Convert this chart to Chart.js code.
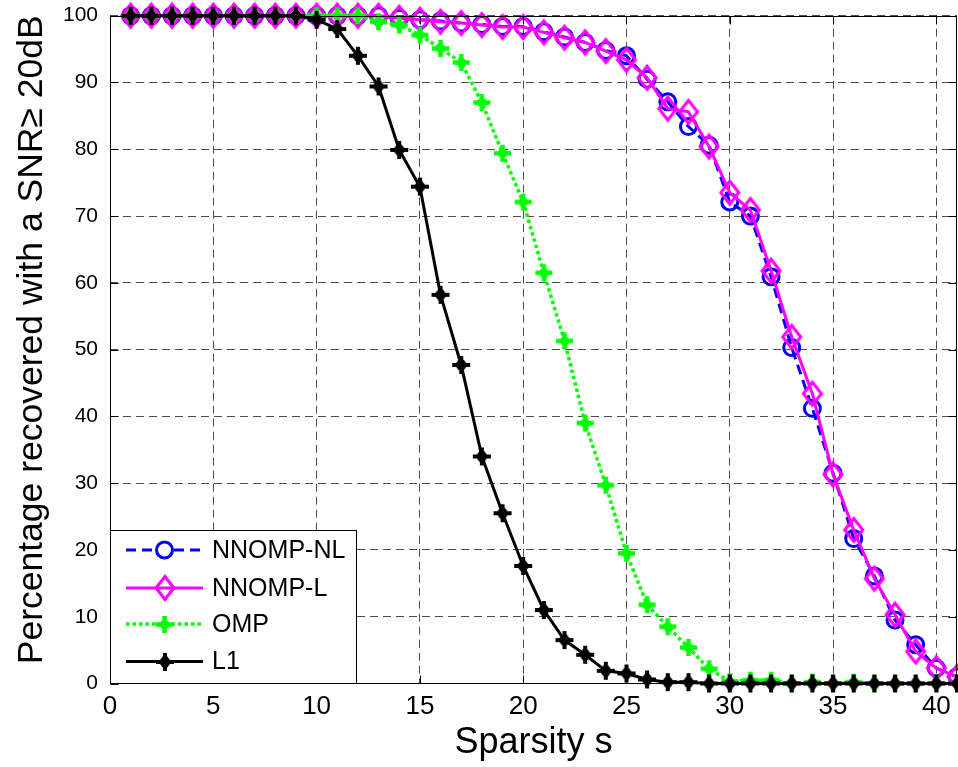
<!DOCTYPE html>
<html>
<head>
<meta charset="utf-8">
<script src="https://cdn.jsdelivr.net/npm/chart.js@4.4.1/dist/chart.umd.min.js"></script>
<style>
  html, body { margin: 0; padding: 0; background: #ffffff; }
  canvas { display: block; }
</style>
</head>
<body>
<canvas id="chart" width="958" height="767"></canvas>
<script>
// Sparsity levels on the horizontal axis
const sparsity = [1, 2, 3, 4, 5, 6, 7, 8, 9, 10,
                  11, 12, 13, 14, 15, 16, 17, 18, 19, 20,
                  21, 22, 23, 24, 25, 26, 27, 28, 29, 30,
                  31, 32, 33, 34, 35, 36, 37, 38, 39, 40, 41];

// Percentage of signals recovered with SNR >= 20 dB
const nnompNL = [100, 100, 100, 100, 100, 100, 100, 100, 100, 100,
                 100, 100, 100, 99.6, 99.4, 99.2, 98.9, 98.7, 98.4, 98.4,
                 97.6, 96.8, 96.0, 94.8, 94.0, 90.5, 87.1, 83.4, 80.6, 72.1,
                 70.0, 60.9, 50.3, 41.2, 31.5, 21.7, 16.1, 9.5, 5.8, 2.3, 1.0];

const nnompL = [100, 100, 100, 100, 100, 100, 100, 100, 100, 100,
                100, 100, 100, 99.7, 99.4, 99.1, 98.9, 98.6, 98.3, 98.3,
                97.5, 96.7, 96.0, 94.7, 93.4, 90.7, 86.1, 85.6, 80.4, 73.5,
                70.9, 61.8, 51.9, 43.4, 31.3, 23.0, 15.7, 10.3, 4.8, 2.3, 1.0];

const omp = [100, 100, 100, 100, 100, 100, 100, 100, 100, 100,
             100, 100, 99.1, 98.6, 97.1, 95.1, 93.0, 87.0, 79.4, 72.1,
             61.5, 51.3, 39.0, 29.7, 19.5, 11.8, 8.5, 5.4, 2.2, 0.3,
             0.5, 0.5, 0, 0.2, 0, 0.2, 0, 0, 0, 0, 0];

const l1 = [100, 100, 100, 100, 100, 100, 100, 100, 100, 99.4,
            98.0, 94.0, 89.4, 79.9, 74.4, 58.2, 47.7, 34.0, 25.5, 17.6,
            11.0, 6.5, 4.3, 1.9, 1.5, 0.6, 0.2, 0.2, 0, 0,
            0, 0, 0, 0, 0, 0, 0, 0, 0, 0, 0];

const seriesNames = ['NNOMP-NL', 'NNOMP-L', 'OMP', 'L1'];
const xTicks = [0, 5, 10, 15, 20, 25, 30, 35, 40];
const yTicks = [0, 10, 20, 30, 40, 50, 60, 70, 80, 90, 100];

const FONT = '"Liberation Sans", Arial, Helvetica, sans-serif';

// ---- marker sprites ----
function sprite(w, h, paint) {
  const c = document.createElement('canvas');
  c.width = w; c.height = h;
  paint(c.getContext('2d'), w / 2, h / 2);
  return c;
}

const diamondMarker = sprite(26, 30, (g, cx, cy) => {
  g.strokeStyle = '#ff00ff';
  g.lineWidth = 3;
  g.lineJoin = 'miter';
  g.beginPath();
  g.moveTo(cx - 9, cy);
  g.lineTo(cx, cy - 11.5);
  g.lineTo(cx + 9, cy);
  g.lineTo(cx, cy + 11.5);
  g.closePath();
  g.stroke();
});

function starMarker(color, hw, hh, arm, bar) {
  return sprite(2 * Math.max(hw, arm) + 2, 2 * Math.max(hh, arm) + 2, (g, cx, cy) => {
    g.fillStyle = color;
    g.beginPath();
    g.moveTo(cx - hw, cy);
    g.lineTo(cx, cy - hh);
    g.lineTo(cx + hw, cy);
    g.lineTo(cx, cy + hh);
    g.closePath();
    g.fill();
    g.fillRect(cx - arm, cy - bar / 2, 2 * arm, bar);
    g.fillRect(cx - bar / 2, cy - arm, bar, 2 * arm);
  });
}

const ompMarker = starMarker('#00ff00', 6.5, 6.5, 8.5, 4.5);
const l1Marker = starMarker('#000000', 6.5, 8.5, 9, 4);

function pts(values) {
  return sparsity.map((s, i) => ({ x: s, y: values[i] }));
}

const datasets = [
  {
    label: seriesNames[0], data: pts(nnompNL), order: 4,
    borderColor: '#0000ff', borderWidth: 3, borderDash: [10, 6],
    pointStyle: 'circle', pointRadius: 8, pointBorderWidth: 3,
    pointBorderColor: '#0000ff', pointBackgroundColor: 'rgba(0,0,0,0)'
  },
  {
    label: seriesNames[1], data: pts(nnompL), order: 3,
    borderColor: '#ff00ff', borderWidth: 3,
    pointStyle: diamondMarker, pointRadius: 10
  },
  {
    label: seriesNames[2], data: pts(omp), order: 2,
    borderColor: '#00ff00', borderWidth: 3.5, borderDash: [3.5, 3],
    pointStyle: ompMarker, pointRadius: 8
  },
  {
    label: seriesNames[3], data: pts(l1), order: 1,
    borderColor: '#000000', borderWidth: 3,
    pointStyle: l1Marker, pointRadius: 8
  }
].map(d => Object.assign({ fill: false, tension: 0, clip: false, showLine: true }, d));

// Keep the plot box fixed: no extra room reserved for edge tick labels
function fixBox(size, prop) {
  return function (scale) {
    scale[prop] = size;
    scale.paddingLeft = 0;
    scale.paddingRight = 0;
    scale.paddingTop = 0;
    scale.paddingBottom = 0;
  };
}

// Axes frame, inward tick marks and the legend box
const framePlugin = {
  id: 'frame',
  afterDatasetsDraw(chart) {
    const { ctx, chartArea: a, scales } = chart;
    ctx.save();
    ctx.strokeStyle = '#000';
    ctx.lineWidth = 1;
    ctx.setLineDash([]);
    const L = Math.round(a.left) + 0.5, R = Math.round(a.right) - 0.5;
    const T = Math.round(a.top) + 0.5, B = Math.round(a.bottom) - 0.5;
    ctx.strokeRect(L, T, R - L, B - T);
    const tl = 8;
    ctx.beginPath();
    xTicks.forEach(v => {
      const px = Math.round(scales.x.getPixelForValue(v)) + 0.5;
      ctx.moveTo(px, B); ctx.lineTo(px, B - tl);
      ctx.moveTo(px, T); ctx.lineTo(px, T + tl);
    });
    yTicks.forEach(v => {
      const py = Math.round(scales.y.getPixelForValue(v)) + 0.5;
      ctx.moveTo(L, py); ctx.lineTo(L + tl, py);
      ctx.moveTo(R, py); ctx.lineTo(R - tl, py);
    });
    ctx.stroke();
    ctx.restore();
  },
  afterDraw(chart) {
    const { ctx, chartArea: a } = chart;
    const boxL = Math.round(a.left) + 0.5, boxR = 356.5;
    const boxT = 530.5, boxB = Math.round(a.bottom) - 0.5;
    ctx.save();
    ctx.fillStyle = '#fff';
    ctx.fillRect(boxL, boxT, boxR - boxL, boxB - boxT);
    ctx.strokeStyle = '#000';
    ctx.lineWidth = 1;
    ctx.strokeRect(boxL, boxT, boxR - boxL, boxB - boxT);
    const rows = [550, 588, 624, 661.5];
    const x0 = 126, x1 = 203, xm = 164.5;
    chart.data.datasets.forEach((ds, i) => {
      const y = rows[i];
      ctx.save();
      ctx.strokeStyle = ds.borderColor;
      ctx.lineWidth = ds.borderWidth;
      ctx.setLineDash(ds.borderDash || []);
      ctx.beginPath();
      ctx.moveTo(x0, y); ctx.lineTo(x1, y);
      ctx.stroke();
      ctx.setLineDash([]);
      if (ds.pointStyle === 'circle') {
        ctx.beginPath();
        ctx.arc(xm, y, ds.pointRadius, 0, Math.PI * 2);
        ctx.lineWidth = ds.pointBorderWidth;
        ctx.strokeStyle = ds.pointBorderColor;
        ctx.fillStyle = '#fff';
        ctx.fill();
        ctx.stroke();
      } else {
        const img = ds.pointStyle;
        ctx.drawImage(img, Math.round(xm - img.width / 2), Math.round(y - img.height / 2));
      }
      ctx.restore();
      ctx.fillStyle = '#000';
      ctx.font = '25px ' + FONT;
      ctx.textBaseline = 'middle';
      ctx.textAlign = 'left';
      ctx.fillText(ds.label, 212, y + 1);
    });
    ctx.restore();
  }
};

new Chart(document.getElementById('chart'), {
  type: 'line',
  data: { datasets },
  plugins: [framePlugin],
  options: {
    responsive: false,
    animation: false,
    devicePixelRatio: 1,
    layout: { autoPadding: false, padding: { top: 15.7, right: 1, left: 0, bottom: 0 } },
    plugins: { legend: { display: false }, tooltip: { enabled: false } },
    elements: { point: { hitRadius: 0, hoverRadius: 0 } },
    scales: {
      x: {
        type: 'linear', min: 0, max: 41,
        afterFit: fixBox(83.5, 'height'),
        afterBuildTicks(scale) { scale.ticks = xTicks.map(v => ({ value: v })); },
        ticks: { color: '#000', padding: 8, maxRotation: 0, font: { family: FONT, size: 26 } },
        grid: { color: 'rgba(0,0,0,0.7)', lineWidth: 1, drawTicks: false },
        border: { display: false, dash: [8, 5] },
        title: {
          display: true, text: 'Sparsity s', color: '#000',
          font: { family: FONT, size: 36, lineHeight: 1.2 },
          padding: { top: 0, bottom: 2 }
        }
      },
      y: {
        type: 'linear', min: 0, max: 100,
        afterFit: fixBox(110, 'width'),
        afterBuildTicks(scale) { scale.ticks = yTicks.map(v => ({ value: v })); },
        ticks: { color: '#000', padding: 12, font: { family: FONT, size: 21 } },
        grid: { color: 'rgba(0,0,0,0.7)', lineWidth: 1, drawTicks: false },
        border: { display: false, dash: [8, 5] },
        title: {
          display: true, text: '\u00a0\u00a0Percentage recovered with a SNR\u2265 20dB', color: '#000',
          font: { family: FONT, size: 35.5, lineHeight: 1.2 },
          padding: { top: 11, bottom: 0 }
        }
      }
    }
  }
});
</script>
</body>
</html>
